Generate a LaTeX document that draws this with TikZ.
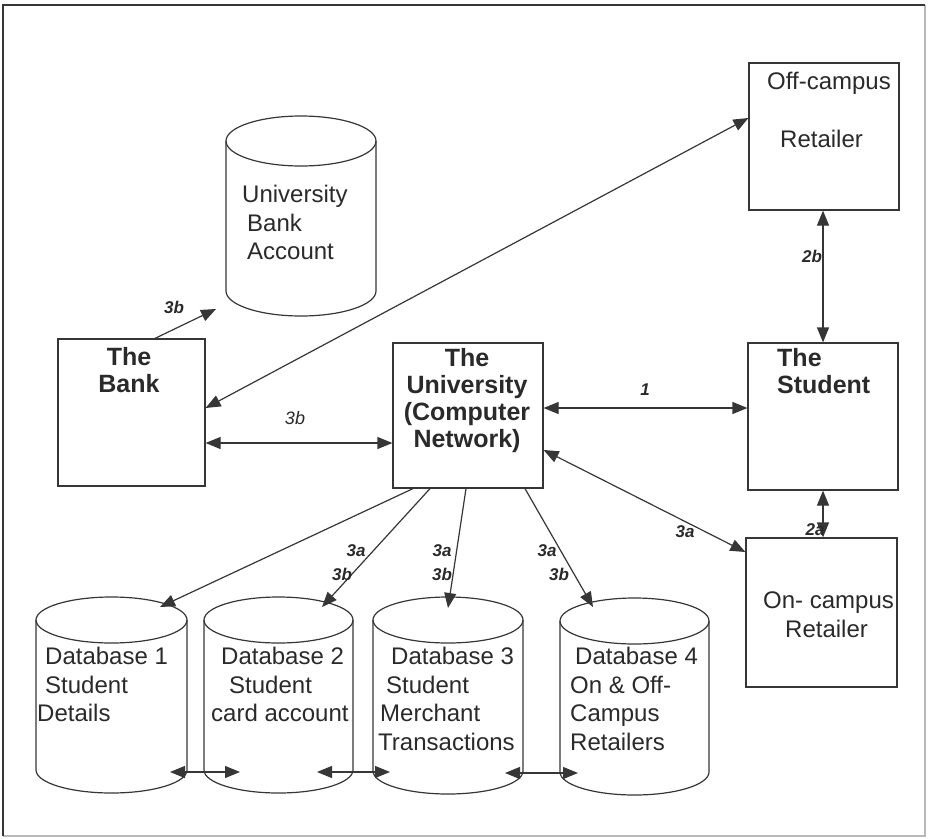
\documentclass[tikz,border=0pt]{standalone}
\usepackage{fontspec}
\setmainfont{Liberation Sans}
\usetikzlibrary{arrows.meta}
\definecolor{linec}{HTML}{363636}
\definecolor{textc}{HTML}{2A2A2A}
\definecolor{framel}{HTML}{B8B8B8}
\newcommand\dbcyl[6]{%
  \node[inner sep=0pt, minimum width={2*#5*1pt}, minimum height={(#4-#3+2*#6)*1pt}] (#1) at (#2,{(#3+#4)/2}) {};
  \draw[ln] (#2,#3) ellipse [x radius=#5, y radius=#6];
  \draw[ln] ({#2-#5},#3) -- ({#2-#5},#4) arc[start angle=180, end angle=0, x radius=#5, y radius=#6] -- ({#2+#5},#3);
}
\begin{document}
\begin{tikzpicture}[x=1pt,y=-1pt,
  ln/.style={draw=linec, line width=1.2pt},
  box/.style={ln, rectangle, inner sep=0pt},
  tip/.style={ln, -{Triangle[length=15pt,width=12pt]}},
  dtip/.style={ln, {Triangle[length=15pt,width=12pt]}-{Triangle[length=15pt,width=12pt]}},
  txt/.style={text=textc, font=\fontsize{24}{28.5}\selectfont, inner sep=0pt, align=left},
  btxt/.style={text=textc, font=\bfseries\fontsize{25}{27}\selectfont, inner sep=0pt},
  lab/.style={text=textc, font=\bfseries\itshape\fontsize{17}{17}\selectfont, inner sep=0pt},
  ilab/.style={text=textc, font=\itshape\fontsize{18}{18}\selectfont, inner sep=0pt},
]
\useasboundingbox (0,0) rectangle (929,838);
\fill[white] (0,0) rectangle (929,838);
% frame
\draw[framel, line width=1.2pt] (925,5) -- (925,836) -- (3,836);
\draw[linec, line width=1.4pt] (3,836) -- (3,5) -- (925,5);

% boxes
\node[box, minimum width=150pt, minimum height=147pt] (off) at (824,136.5) {};
\node[box, minimum width=150pt, minimum height=147pt] (stu) at (823,416.5) {};
\node[box, minimum width=151pt, minimum height=149pt] (on) at (821.5,612.5) {};
\node[box, minimum width=150pt, minimum height=145pt] (univ) at (468,415.5) {};
\node[box, minimum width=147pt, minimum height=147pt] (bank) at (131.5,412.5) {};

% cylinders
\dbcyl{uba}{301}{141}{291}{75}{25}
\dbcyl{db1}{111.5}{620}{770}{75.5}{23}
\dbcyl{db2}{278.5}{620}{770}{74.5}{23}
\dbcyl{db3}{448}{620}{771}{75}{23}
\dbcyl{db4}{634.5}{621}{772}{74.5}{23}

% texts
\node[txt, anchor=north west] (offT1) at (767,72) {Off-campus};
\node[txt, anchor=north west] (offT2) at (780,130) {Retailer};
\node[btxt, anchor=north west, align=left] (stuT) at (777,348) {The\\Student};
\node[txt, anchor=north west] (onT1) at (763,592) {On- campus};
\node[txt, anchor=north west] (onT2) at (785,620) {Retailer};
\node[btxt, anchor=north, align=center] (univT) at (467,348) {The\\University\\(Computer\\Network)};
\node[btxt, anchor=north, align=center] (bankT) at (129,347) {The\\Bank};
\node[txt, anchor=north west] (ubaT) at (242,185) {University\\\hspace{5pt}Bank\\\hspace{5pt}Account};
\node[txt, anchor=north west] (db1T) at (45,647) {Database 1\\Student\\\hspace{-8pt}Details};
\node[txt, anchor=north west] (db2T) at (221,647) {Database 2\\\hspace{8pt}Student\\\hspace{-10pt}card account};
\node[txt, anchor=north west] (db3T) at (391,647) {Database 3\\\hspace{-5pt}Student\\\hspace{-11pt}Merchant\\\hspace{-13pt}Transactions};
\node[txt, anchor=north west] (db4T) at (575,647) {Database 4\\\hspace{-5pt}On \& Off-\\\hspace{-5pt}Campus\\\hspace{-5pt}Retailers};

% named end points
\coordinate (ubaE) at (216,309);
\coordinate (db1E) at (160,607);
\coordinate (db2E) at (322,607);
\coordinate (db3E) at (448,608);
\coordinate (db4E) at (593,607);
\coordinate (d12a) at (170,772);
\coordinate (d12b) at (240,772);
\coordinate (d23a) at (317,772);
\coordinate (d23b) at (390,772);
\coordinate (d34a) at (505,773);
\coordinate (d34b) at (578,773);

% connectors
\draw[dtip] ([yshift=18.5pt]off.west) -- ([yshift=4.5pt]bank.east);
\draw[dtip] ([yshift=-30.5pt]bank.east) -- ([yshift=-27.5pt]univ.west);
\draw[dtip] ([yshift=7.5pt]univ.east) -- ([yshift=8.5pt]stu.west);
\draw[dtip] ([xshift=-1pt]off.south) -- (stu.north);
\draw[dtip] (stu.south) -- ([xshift=1.5pt]on.north);
\draw[dtip] ([yshift=-34.5pt]univ.east) -- ([yshift=60.5pt]on.west);
\draw[tip] ([xshift=23.5pt]bank.north) -- (ubaE);
\draw[tip] ([xshift=-55pt]univ.south) -- (db1E);
\draw[tip] ([xshift=-38pt]univ.south) -- (db2E);
\draw[tip] ([xshift=-2pt]univ.south) -- (db3E);
\draw[tip] ([xshift=57pt]univ.south) -- (db4E);
\draw[dtip] (d12a) -- (d12b);
\draw[dtip] (d23a) -- (d23b);
\draw[dtip] (d34a) -- (d34b);

% labels
\node[lab] (l1) at (174,307) {3b};
\node[ilab] (l2) at (295,418) {3b};
\node[lab] (l3) at (645,390) {1};
\node[lab] (l4) at (812,256) {2b};
\node[lab] (l5) at (815,530) {2a};
\node[lab] (l6) at (685,532) {3a};
\node[lab] (l7) at (356,551) {3a};
\node[lab] (l8) at (342,574) {3b};
\node[lab] (l9) at (442,551) {3a};
\node[lab] (l10) at (442,574) {3b};
\node[lab] (l11) at (547,551) {3a};
\node[lab] (l12) at (559,574) {3b};
\end{tikzpicture}
\end{document}
